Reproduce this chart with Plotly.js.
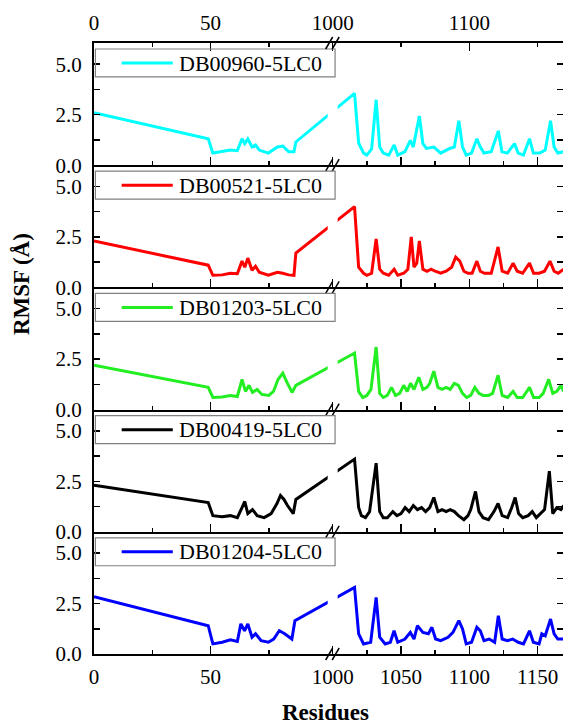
<!DOCTYPE html>
<html>
<head>
<meta charset="utf-8">
<script src="https://cdn.plot.ly/plotly-3.0.1.min.js"></script>
<style>html,body{margin:0;padding:0;background:#fff;}#chart{width:563px;height:725px;}</style>
</head>
<body>
<div id="chart"></div>
<script>
// ---------------- DATA ----------------
const seriesNames = ['DB00960-5LC0', 'DB00521-5LC0', 'DB01203-5LC0', 'DB00419-5LC0', 'DB01204-5LC0'];

const res_DB00960 = [0, 49, 51, 55, 58.5, 61.5, 63.5, 64.7, 66, 67.8, 69.3, 70.9, 74.8, 78.7, 81, 83.5, 85.8, 86.6,
  1016, 1019, 1022.6, 1025, 1028.5, 1031.8, 1034.4, 1037, 1041, 1045, 1047.6, 1052.9, 1056.8, 1059, 1063.4, 1066, 1068.6,
  1074, 1079, 1085.7, 1089, 1092.3, 1095, 1097.7, 1101.6, 1105.5, 1108, 1110.7, 1116, 1121.2, 1123.8, 1127.8, 1133,
  1135.7, 1139.6, 1144, 1146.8, 1151.5, 1155.5, 1159.4, 1162, 1164.7, 1169];
const rmsf_DB00960 = [2.6, 1.31, 0.6, 0.67, 0.75, 0.72, 1.31, 1.07, 1.3, 0.9, 1.0, 0.75, 0.6, 0.9, 0.95, 0.67, 0.67, 1.15,
  3.56, 1.1, 0.6, 0.5, 0.8, 3.24, 0.9, 0.6, 0.5, 1.0, 0.5, 0.67, 1.23, 0.9, 2.44, 1.07, 0.83,
  0.9, 0.6, 0.83, 0.9, 2.2, 0.9, 0.5, 0.6, 1.31, 0.9, 0.6, 0.67, 1.7, 0.67, 0.6, 1.07,
  0.6, 0.5, 1.31, 0.6, 0.6, 0.75, 2.2, 0.9, 0.6, 0.67];

const res_DB00521 = [0, 49, 51, 55, 58.5, 61.5, 63.5, 64.7, 66, 67.8, 69.3, 70.9, 74.8, 78.7, 81, 83.5, 85.8, 86.6,
  1016, 1019, 1022.6, 1025, 1028.5, 1031.8, 1034.4, 1037, 1041, 1045, 1047.6, 1052, 1055, 1057.5, 1059.5, 1061.5, 1063.4,
  1066, 1069, 1072, 1075, 1079, 1083, 1087, 1090, 1093, 1096, 1099, 1102, 1105.5, 1108, 1111, 1116, 1121, 1124, 1128,
  1132, 1135, 1139, 1144, 1147, 1151, 1155, 1159, 1162, 1165, 1169];
const rmsf_DB00521 = [2.3, 1.1, 0.6, 0.62, 0.7, 0.68, 1.3, 1.0, 1.45, 0.85, 1.05, 0.75, 0.6, 0.75, 0.7, 0.62, 0.6, 1.7,
  4.0, 1.0, 0.7, 0.6, 0.7, 2.4, 0.9, 0.7, 0.6, 0.9, 0.6, 0.7, 0.9, 2.5, 1.0, 1.2, 2.3,
  0.9, 0.8, 0.9, 0.8, 0.7, 0.8, 1.0, 1.5, 1.3, 0.8, 0.7, 0.7, 1.3, 0.8, 0.7, 0.7, 2.0, 0.8, 0.7,
  1.2, 0.8, 0.7, 1.2, 0.7, 0.7, 0.8, 1.3, 0.8, 0.7, 0.9];

const res_DB01203 = [0, 49, 51, 55, 58.5, 61.5, 63.5, 65, 66.5, 68, 70, 72, 75, 77, 79, 81, 83, 85, 86.6,
  1016, 1019, 1022, 1025, 1028, 1031.8, 1034.4, 1037, 1040, 1043, 1046, 1049, 1052, 1054.5, 1057, 1059.5, 1063, 1066,
  1069, 1071, 1074, 1077, 1080, 1083, 1086, 1089, 1092, 1095, 1098, 1101, 1104, 1107, 1110, 1114, 1117, 1121, 1124,
  1128, 1132, 1135, 1139, 1144, 1147, 1151, 1154, 1158, 1161, 1164, 1167, 1169];
const rmsf_DB01203 = [2.2, 1.1, 0.6, 0.62, 0.7, 0.65, 1.5, 0.9, 1.2, 0.85, 1.0, 0.75, 0.7, 0.9, 1.5, 1.8, 1.3, 0.85, 1.2,
  2.8, 0.9, 0.6, 0.7, 1.0, 3.1, 0.8, 0.6, 0.7, 1.1, 0.7, 0.8, 1.2, 0.9, 1.3, 1.0, 1.6, 1.0,
  1.1, 1.3, 1.9, 1.1, 1.0, 1.1, 1.0, 1.3, 1.2, 0.8, 0.6, 0.7, 1.1, 0.8, 0.7, 0.7, 0.8, 1.7, 0.7,
  0.6, 0.9, 0.6, 0.6, 1.1, 0.6, 0.6, 0.8, 1.5, 0.8, 0.9, 1.2, 0.9];

const res_DB00419 = [0, 49, 51, 55, 58.5, 61.5, 63.5, 64.7, 66, 68, 70, 73, 76, 78.5, 80, 81.5, 83, 85.5, 86.6,
  1016, 1019, 1021, 1024, 1027, 1031.8, 1034.4, 1037, 1040, 1044, 1047, 1050, 1053, 1056, 1059, 1062, 1065, 1068,
  1071, 1074, 1077, 1080, 1083, 1086, 1089, 1092, 1096, 1099, 1101, 1104.5, 1107, 1110, 1114, 1118, 1121, 1124, 1128,
  1131, 1133.5, 1136, 1139, 1143, 1146, 1149, 1152, 1155, 1158.5, 1161, 1164, 1167, 1169];
const rmsf_DB00419 = [2.3, 1.45, 0.8, 0.75, 0.8, 0.7, 1.2, 1.5, 0.9, 1.1, 0.8, 0.7, 0.9, 1.4, 1.8, 1.6, 1.3, 0.9, 1.6,
  3.6, 1.2, 0.8, 0.7, 1.0, 3.4, 1.0, 0.7, 0.7, 1.0, 0.8, 0.9, 1.2, 1.0, 1.3, 1.1, 1.2, 1.0,
  1.2, 1.7, 1.0, 1.1, 1.0, 1.1, 1.0, 0.8, 0.6, 0.8, 1.1, 2.0, 1.0, 0.7, 0.6, 1.0, 1.4, 0.8, 0.7,
  1.2, 1.7, 0.9, 0.7, 0.8, 1.0, 0.7, 0.9, 1.1, 3.0, 0.9, 1.2, 1.1, 1.3];

const res_DB01204 = [0, 49, 51, 55, 58.5, 61.5, 63, 64.6, 66, 67.8, 69.3, 71.7, 74.8, 77.1, 79.5, 81.8, 84.9, 86.2,
  1016, 1019, 1022.6, 1027.8, 1031.8, 1034.4, 1038.4, 1042.2, 1044.9, 1047.6, 1052.9, 1056.8, 1059.5, 1062, 1066, 1070,
  1072.6, 1075.3, 1079, 1084.4, 1088, 1092.3, 1095, 1097.7, 1101.6, 1105.5, 1108, 1110.7, 1114.5, 1118.5, 1121.2, 1124,
  1127.8, 1131.7, 1135.7, 1139.6, 1144, 1146.8, 1151, 1153, 1155.5, 1159.4, 1162, 1164.7, 1169];
const rmsf_DB01204 = [2.84, 1.4, 0.5, 0.58, 0.7, 0.62, 1.49, 1.15, 1.49, 0.83, 1.0, 0.66, 0.58, 0.74, 1.15, 1.0, 0.74, 1.65,
  3.3, 1.0, 0.5, 0.58, 2.8, 0.83, 0.5, 0.58, 1.15, 0.58, 0.74, 1.07, 0.74, 1.4, 1.07, 1.0,
  1.32, 0.74, 0.66, 0.83, 1.07, 1.65, 1.24, 0.5, 0.58, 1.32, 1.15, 0.66, 0.74, 0.58, 1.9, 0.74,
  0.66, 0.74, 0.58, 0.5, 1.15, 0.58, 0.5, 1.0, 0.9, 1.73, 1.0, 0.74, 0.74];

// tick values (residue numbers)
const bottomMajorTicks = [0, 50, 1000, 1050, 1100, 1150];
const bottomMinorTicks = [25, 75, 1025, 1075, 1125];
const topMajorTicks = [0, 50, 1000, 1100];
const topMinorTicks = [25, 75, 1050, 1150];
const yMajorTicks = [0, 2.5, 5];
const yTickLabels = ['0.0', '2.5', '5.0'];
const yMinorTicks = [1.25, 3.75];

// ---------------- BROKEN-AXIS SCALE ----------------
const LEFT_END = 102.4;      // last residue shown in the first segment
const RIGHT_START = 1000;    // first residue shown in the second segment
const RIGHT_END = 1168.5;
const RIGHT_SCALE = 1.365 / 2.3275; // relative compression of second segment
function pos(r) { return r <= LEFT_END ? r : LEFT_END + (r - RIGHT_START) * RIGHT_SCALE; }
const XMAX = pos(RIGHT_END);
const BREAK_POS = pos(LEFT_END);

// ---------------- STYLE ----------------
const colors = ['#00FFFF', '#FF0000', '#22EE22', '#000000', '#0000FF'];
const FONT = 'Liberation Serif';
const resArrays = [res_DB00960, res_DB00521, res_DB01203, res_DB00419, res_DB01204];
const rmsfArrays = [rmsf_DB00960, rmsf_DB00521, rmsf_DB01203, rmsf_DB00419, rmsf_DB01204];
const N = 5;

const data = [];
const layout = {
  width: 563, height: 725,
  margin: {l: 94, r: 0, t: 43, b: 71},
  paper_bgcolor: '#fff', plot_bgcolor: '#fff',
  showlegend: false,
  font: {family: FONT, size: 21, color: '#000'},
  shapes: [], annotations: []
};

for (let i = 0; i < N; i++) {
  const s = i === 0 ? '' : String(i + 1);
  data.push({
    x: resArrays[i].map(pos), y: rmsfArrays[i],
    xaxis: 'x' + s, yaxis: 'y' + s,
    mode: 'lines', line: {color: colors[i], width: 3},
    name: seriesNames[i], hoverinfo: 'skip'
  });
  const isBottom = i === N - 1;
  layout['xaxis' + s] = {
    domain: [0, 1], anchor: 'y' + s, range: [0, XMAX],
    tickmode: 'array', tickvals: bottomMajorTicks.map(pos),
    ticktext: bottomMajorTicks.map(String),
    showticklabels: isBottom,
    ticks: 'inside', ticklen: 8, tickwidth: 1.5, tickcolor: '#000',
    minor: {tickmode: 'array', tickvals: bottomMinorTicks.map(pos), ticks: 'inside', ticklen: 4, tickwidth: 1.5, tickcolor: '#000', showgrid: false},
    showline: true, linewidth: 2, linecolor: '#000',
    showgrid: false, zeroline: false, fixedrange: true,
    tickfont: {family: FONT, size: 21, color: '#000'},
    ticklabelstandoff: 3
  };
  layout['yaxis' + s] = {
    domain: [(N - 1 - i) / N, (N - i) / N], anchor: 'x' + s, range: [0, 6.05],
    tickmode: 'array', tickvals: yMajorTicks, ticktext: yTickLabels,
    ticks: 'inside', ticklen: 6, tickwidth: 1.5, tickcolor: '#000',
    minor: {tickmode: 'array', tickvals: yMinorTicks, ticks: 'inside', ticklen: 6, tickwidth: 1.5, tickcolor: '#000', showgrid: false},
    showline: true, linewidth: 2, linecolor: '#000', mirror: 'ticks',
    showgrid: false, zeroline: false, fixedrange: true,
    tickfont: {family: FONT, size: 21, color: '#000'},
    ticklabelstandoff: 6
  };

  const xd = 'x' + s + ' domain', yd = 'y' + s + ' domain';
  // gap in the data line at the axis break
  layout.shapes.push({type: 'rect', xref: 'x' + s, xsizemode: 'pixel', xanchor: BREAK_POS, x0: -5, x1: 5,
    yref: yd, y0: 0.07, y1: 0.7, fillcolor: '#fff', line: {width: 0}, layer: 'above'});
  // legend box
  layout.shapes.push({type: 'rect', xref: xd, x0: 0.003, x1: 0.514, yref: yd, y0: 0.722, y1: 0.951,
    line: {color: '#808080', width: 1.2}, fillcolor: 'rgba(0,0,0,0)', layer: 'above'});
  layout.shapes.push({type: 'line', xref: xd, x0: 0.059, x1: 0.168, yref: yd, y0: 0.836, y1: 0.836,
    line: {color: colors[i], width: 3}, layer: 'above'});
  layout.annotations.push({xref: xd, yref: yd, x: 0.177, y: 0.836, xanchor: 'left', yanchor: 'middle',
    text: seriesNames[i], showarrow: false, font: {family: FONT, size: 22, color: '#000'}});
  // break marks on the bottom axis line of every panel
  [-6.5, 0].forEach(off => {
    layout.shapes.push({type: 'line', xref: 'x' + s, xsizemode: 'pixel', xanchor: BREAK_POS, x0: off - 0.5, x1: off + 6.5,
      yref: yd, ysizemode: 'pixel', yanchor: 0, y0: -6, y1: 6, line: {color: '#000', width: 1.5}, layer: 'above'});
  });
}
// break marks on the top axis line
[-6.5, 0].forEach(off => {
  layout.shapes.push({type: 'line', xref: 'x', xsizemode: 'pixel', xanchor: BREAK_POS, x0: off - 0.5, x1: off + 6.5,
    yref: 'y domain', ysizemode: 'pixel', yanchor: 1, y0: -6, y1: 6, line: {color: '#000', width: 1.5}, layer: 'above'});
});

// top axis
layout.xaxis6 = {
  overlaying: 'x', anchor: 'y', side: 'top', range: [0, XMAX],
  tickmode: 'array', tickvals: topMajorTicks.map(pos), ticktext: topMajorTicks.map(String),
  ticks: 'inside', ticklen: 8, tickwidth: 1.5, tickcolor: '#000',
  minor: {tickmode: 'array', tickvals: topMinorTicks.map(pos), ticks: 'inside', ticklen: 4, tickwidth: 1.5, tickcolor: '#000', showgrid: false},
  showline: true, linewidth: 2, linecolor: '#000',
  showgrid: false, zeroline: false, fixedrange: true,
  tickfont: {family: FONT, size: 21, color: '#000'},
  ticklabelstandoff: 3
};
data.push({x: [], y: [], xaxis: 'x6', yaxis: 'y', mode: 'lines', hoverinfo: 'skip', showlegend: false});

// axis titles
layout.annotations.push({xref: 'paper', yref: 'paper', x: 0.4936, y: -0.095, xanchor: 'center', yanchor: 'middle',
  text: '<b>Residues</b>', showarrow: false, font: {family: FONT, size: 23, color: '#000'}});
layout.annotations.push({xref: 'paper', yref: 'paper', x: -0.154, y: 0.605, xanchor: 'center', yanchor: 'middle',
  text: '<b>RMSF (Å)</b>', textangle: -90, showarrow: false, font: {family: FONT, size: 23, color: '#000'}});

Plotly.newPlot('chart', data, layout, {displayModeBar: false, staticPlot: true});
</script>
</body>
</html>
